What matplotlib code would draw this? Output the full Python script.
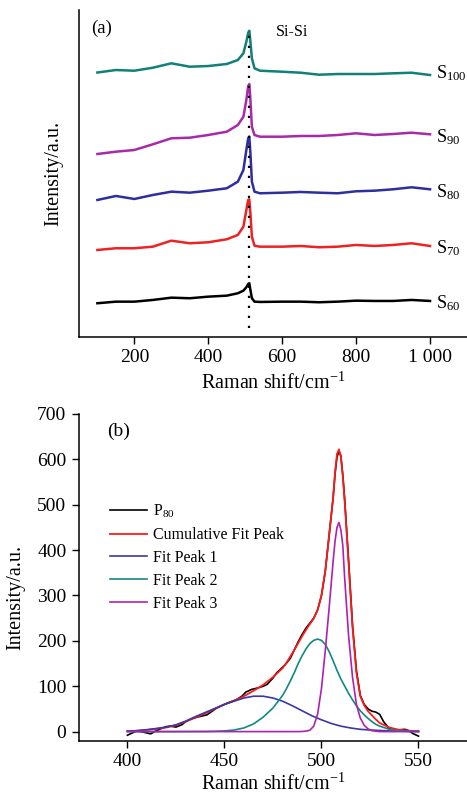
import matplotlib
matplotlib.use("Agg")
import matplotlib.pyplot as plt

plt.rcParams['font.family'] = ['Liberation Serif', 'DejaVu Serif']
plt.rcParams['mathtext.fontset'] = 'custom'
plt.rcParams['mathtext.rm'] = 'Liberation Serif'
plt.rcParams['mathtext.it'] = 'Liberation Serif:italic'
plt.rcParams['axes.linewidth'] = 1.1

# ── (a) Raman spectra, stacked (a.u.) ───────────────────────
x_a = [100, 150, 200, 250, 300, 350, 400, 450, 480, 495, 503, 508, 511,
       514, 518, 525, 540, 600, 650, 700, 750, 800, 850, 900, 950, 1000]
s60 = [33.7, 35.3, 35.3, 37.0, 39.3, 38.7, 40.3, 41.3, 43.7, 46.3, 49.7, 53.0, 53.7,
       47.0, 38.7, 35.3, 35.0, 35.3, 35.3, 34.7, 35.3, 36.3, 36.0, 36.0, 37.0, 36.0]
s70 = [87.0, 88.7, 88.7, 90.3, 96.3, 93.7, 94.7, 97.7, 102.0, 110.3, 127.0, 137.0, 137.7,
       123.7, 100.3, 91.3, 90.3, 90.3, 91.0, 89.7, 90.3, 92.0, 91.0, 92.0, 93.7, 91.0]
s80 = [137.0, 141.0, 138.0, 142.0, 145.3, 144.3, 146.3, 148.7, 155.3, 167.0, 187.0, 198.7, 200.3,
       183.7, 155.3, 145.3, 143.7, 144.3, 145.0, 144.3, 143.7, 145.7, 146.3, 147.7, 149.7, 147.7]
s90 = [183.0, 185.3, 187.0, 192.7, 198.7, 199.3, 202.0, 205.3, 212.0, 220.3, 237.0, 251.0, 253.0,
       237.0, 210.3, 202.0, 200.3, 200.3, 201.0, 201.0, 202.0, 203.7, 202.0, 203.0, 204.3, 202.7]
s100 = [264.5, 267.0, 266.3, 269.3, 273.7, 270.3, 271.0, 273.0, 277.0, 283.7, 295.3, 304.3, 306.3,
        295.3, 278.7, 268.7, 266.3, 265.3, 264.3, 262.3, 263.0, 263.0, 263.0, 263.7, 264.3, 262.0]
series_a = [s60, s70, s80, s90, s100]
names_a = [r'S$_{\mathregular{60}}$', r'S$_{\mathregular{70}}$', r'S$_{\mathregular{80}}$',
           r'S$_{\mathregular{90}}$', r'S$_{\mathregular{100}}$']
label_y_a = [33.7, 88.7, 144.7, 200.3, 264.0]
colors_a = ['#000000', '#ee2222', '#2e2e9e', '#a82aa8', '#108078']
si_si_pos = 511

# ── (b) peak fit of P80 ─────────────────────────────────────
x_p80 = [400, 403, 405, 408, 410, 412, 414, 417, 420, 422, 425, 428, 430, 433, 436, 438,
         441, 443, 446, 449, 451, 454, 456, 459, 461, 464, 467, 470, 472, 475, 477, 480,
         482, 484, 486, 488, 490, 492, 494, 496, 498, 500, 502, 504, 506, 507, 508, 509,
         510, 511, 512, 514, 516, 518, 520, 522, 524, 526, 528, 530, 532, 535, 538, 540,
         543, 545, 547, 550]
p80 = [-8, -2, 2, -1, -3, -5, 0, 6, 11, 12, 10, 15, 22, 28, 32, 34,
       37, 43, 52, 58, 62, 67, 70, 78, 87, 93, 96, 100, 104, 118, 130, 142,
       151, 162, 180, 198, 214, 228, 239, 250, 268, 300, 355, 435, 515, 568, 605, 618,
       608, 565, 510, 375, 235, 135, 80, 60, 50, 45, 43, 38, 22, 6, 3, 4,
       5, 2, -4, -10]

x_cum = [400, 405, 410, 415, 420, 425, 430, 435, 440, 445, 450, 455, 460, 465, 470, 475,
         480, 482, 484, 486, 488, 490, 492, 494, 496, 498, 500, 502, 504, 506, 507, 508,
         509, 510, 511, 512, 514, 516, 518, 520, 522, 524, 526, 528, 530, 535, 540, 545, 550]
cum = [1, 2, 4, 6, 9, 14, 22, 31, 40, 50, 60, 68, 78, 90, 103, 120,
       140, 152, 166, 180, 195, 210, 224, 237, 249, 268, 300, 355, 435, 515, 572, 612,
       622, 605, 562, 505, 370, 230, 130, 78, 58, 45, 36, 27, 19, 9, 4, 2, 1]

x_pk1 = [400, 405, 410, 415, 420, 425, 430, 435, 440, 445, 450, 455, 460, 465, 470, 475,
         480, 485, 490, 495, 500, 505, 510, 515, 520, 525, 530, 535, 540, 545, 550]
pk1 = [1, 2, 4, 7, 10, 15, 23, 33, 42, 51, 60, 67, 74, 78, 78, 74,
       67, 57, 46, 35, 26, 18, 12, 8, 5, 3.5, 2.5, 1.5, 1, 0.5, 0.3]

x_pk2 = [400, 420, 440, 445, 450, 455, 460, 465, 470, 475, 480, 482, 484, 486, 488, 490,
         492, 494, 496, 498, 500, 502, 504, 506, 508, 510, 512, 514, 516, 518, 520, 522,
         524, 526, 528, 530, 535, 540, 545, 550]
pk2 = [0, 0, 0.3, 0.7, 1.5, 3.5, 8, 17, 32, 52, 80, 95, 112, 130, 150, 167,
       182, 194, 201, 204, 201, 192, 176, 156, 135, 116, 100, 84, 70, 57, 46, 37,
       29, 22, 16, 12, 5, 2, 1, 0.3]

x_pk3 = [400, 480, 488, 490, 492, 494, 496, 498, 500, 502, 504, 506, 507, 508, 509, 510,
         511, 512, 514, 516, 518, 520, 522, 524, 526, 528, 530, 550]
pk3 = [0, 0, 0, 0.3, 1, 3, 12, 38, 95, 180, 275, 375, 420, 450, 461, 445,
       410, 335, 210, 120, 60, 30, 14, 6, 2, 1, 0, 0]

fig = plt.figure(figsize=(4.67, 7.96), dpi=100)

# ── panel (a) ───────────────────────────────────────────────
ax1 = fig.add_axes([0.169, 0.5767, 0.831, 0.4107])
for y, c in zip(series_a, colors_a):
    ax1.plot(x_a, y, color=c, linewidth=1.8)
for y, n in zip(label_y_a, names_a):
    ax1.text(1017, y, n, fontsize=13, ha='left', va='center')
ax1.plot([si_si_pos, si_si_pos], [9, 305], color='black', linewidth=1.6,
         linestyle=(0, (1, 3.5)))
ax1.text(584, 305, 'Si-Si', fontsize=11.5, ha='left', va='center')
ax1.text(82, 309, '(a)', fontsize=13.5, ha='left', va='center')
ax1.set_xlim(50, 1100)
ax1.set_ylim(0, 327)
ax1.set_xticks([200, 400, 600, 800, 1000])
ax1.set_xticklabels(['200', '400', '600', '800', '1 000'])
ax1.set_yticks([])
ax1.spines['top'].set_visible(False)
ax1.spines['right'].set_visible(False)
ax1.tick_params(axis='x', direction='out', length=5, width=1, pad=4, labelsize=14)
ax1.set_xlabel(r'Raman shift/cm$^{\mathregular{-1}}$', fontsize=14.5)
ax1.set_ylabel('Intensity/a.u.', fontsize=14.5)
ax1.xaxis.set_label_coords(0.5, -0.110)
ax1.yaxis.set_label_coords(-0.040, 0.5)

# ── panel (b) ───────────────────────────────────────────────
ax2 = fig.add_axes([0.169, 0.0695, 0.831, 0.4104])
ax2.plot(x_p80, p80, color='black', linewidth=1.2, label=r'P$_{\mathregular{80}}$')
ax2.plot(x_cum, cum, color='#ff1a1a', linewidth=1.3, label='Cumulative Fit Peak')
ax2.plot(x_pk1, pk1, color='#3838a8', linewidth=1.2, label='Fit Peak 1')
ax2.plot(x_pk2, pk2, color='#108a80', linewidth=1.2, label='Fit Peak 2')
ax2.plot(x_pk3, pk3, color='#b020b0', linewidth=1.2, label='Fit Peak 3')
ax2.text(389.4, 662, '(b)', fontsize=14, ha='left', va='center')
ax2.set_xlim(375, 575)
ax2.set_ylim(-20, 700)
ax2.set_xticks([400, 450, 500, 550])
ax2.set_yticks(range(0, 701, 100))
ax2.spines['top'].set_visible(False)
ax2.spines['right'].set_visible(False)
ax2.spines['left'].set_bounds(-20, 700)
ax2.tick_params(direction='out', length=5, width=1, pad=4, labelsize=14)
ax2.set_xlabel(r'Raman shift/cm$^{\mathregular{-1}}$', fontsize=14.5)
ax2.set_ylabel('Intensity/a.u.', fontsize=14.5)
ax2.xaxis.set_label_coords(0.5, -0.100)
ax2.yaxis.set_label_coords(-0.139, 0.437)
ax2.legend(loc='upper left', bbox_to_anchor=(0.08, 0.728), frameon=False,
           borderpad=0, borderaxespad=0, handlelength=2.3, handletextpad=0.4,
           labelspacing=0.43, fontsize=11.5)

fig.savefig('out.png', dpi=100)
